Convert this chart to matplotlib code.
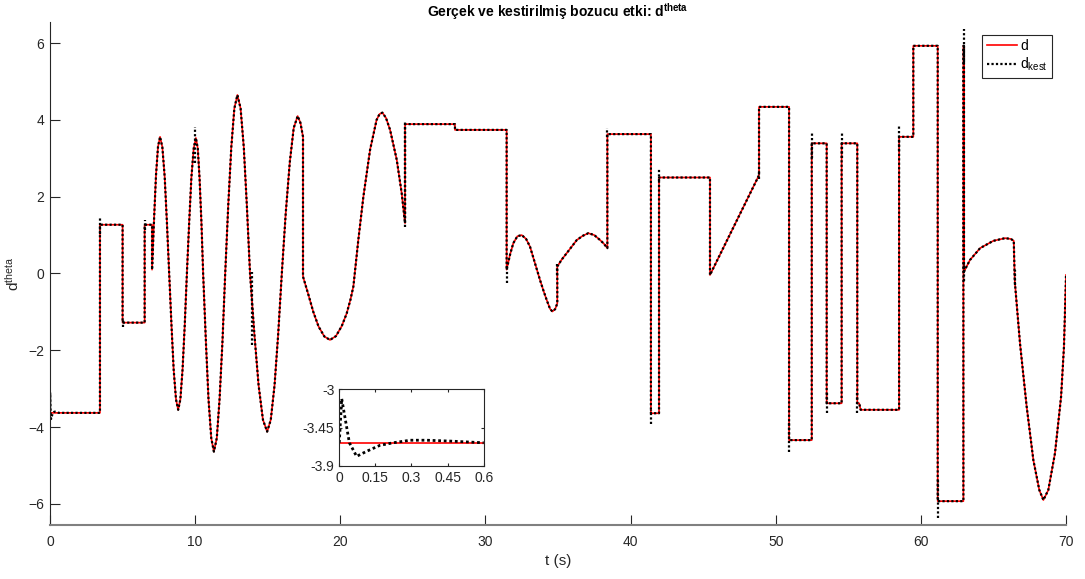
import matplotlib
matplotlib.use("Agg")
import matplotlib.pyplot as plt

plt.rcParams['font.family'] = ['Liberation Sans', 'DejaVu Sans']
plt.rcParams['mathtext.default'] = 'regular'

# gercek bozucu etki d (t, deger) - grafikten okunan noktalar
t_d = [0, 3.44, 3.44, 5.0, 5.0, 6.52, 6.52, 7.03, 7.03,
       7.17, 7.30, 7.44, 7.58, 7.74, 7.90, 8.05, 8.21, 8.37, 8.52, 8.68, 8.83,
       8.98, 9.13, 9.28, 9.43, 9.59, 9.74, 9.90, 10.05, 10.18, 10.30, 10.43, 10.55,
       10.74, 10.92, 11.11, 11.29, 11.49, 11.68, 11.88, 12.07, 12.28, 12.49, 12.70, 12.91,
       13.13, 13.35, 13.56, 13.78, 14.08, 14.37, 14.67, 14.96, 15.21, 15.47, 15.72, 15.97,
       16.24, 16.52, 16.79, 17.06, 17.25, 17.43,
       17.43, 17.8, 18.14, 18.5, 18.9, 19.29, 19.7, 20.1, 20.44, 20.7, 20.9,
       21.24, 21.59, 22.05, 22.5, 22.7, 22.9, 23.15, 23.43, 23.89, 24.23, 24.46,
       24.46, 27.9, 27.9, 31.46,
       31.46, 31.7, 31.92, 32.2, 32.5, 32.8, 33.07, 33.4, 33.76, 34.0, 34.22, 34.45, 34.61, 34.8, 34.95,
       34.95, 35.25, 35.6, 36.29, 36.7, 37.09, 37.5, 37.9, 38.15, 38.4,
       38.4, 41.4, 41.4, 41.96, 41.96, 45.47,
       45.47, 48.85,
       48.85, 50.92, 50.92, 52.48, 52.48, 53.51, 53.51, 54.54, 54.54, 55.62,
       55.62, 55.75, 55.85, 58.5, 58.5, 59.48, 59.48, 61.16, 61.16, 62.93,
       62.93, 62.97,
       62.97, 63.38, 64.08, 64.99, 65.8, 66.2, 66.4,
       66.47, 66.83, 67.29, 67.75, 68.16, 68.44, 68.78, 69.24, 69.66, 69.86, 70.0]
v_d = [-3.63, -3.63, 1.27, 1.27, -1.28, -1.28, 1.27, 1.27, 0.1,
       1.43, 2.55, 3.30, 3.56, 3.29, 2.52, 1.36, 0.0, -1.36, -2.51, -3.28, -3.55,
       -3.28, -2.51, -1.36, 0.0, 1.35, 2.50, 3.26, 3.53, 3.26, 2.50, 1.35, 0.0,
       -1.78, -3.28, -4.29, -4.64, -4.29, -3.28, -1.78, 0.0, 1.78, 3.29, 4.30, 4.65,
       4.30, 3.29, 1.78, 0.0, -1.58, -2.91, -3.81, -4.12, -3.81, -2.91, -1.58, 0.0,
       1.57, 2.90, 3.79, 4.10, 3.93, 3.56,
       -0.08, -0.55, -1.0, -1.38, -1.64, -1.73, -1.63, -1.37, -1.04, -0.68, -0.34,
       0.87, 2.0, 3.22, 4.0, 4.15, 4.19, 4.05, 3.74, 2.96, 2.09, 1.31,
       3.89, 3.89, 3.74, 3.74,
       0.1, 0.5, 0.79, 0.97, 1.0, 0.9, 0.70, 0.28, -0.17, -0.45, -0.69, -0.92, -0.99, -0.93, -0.78,
       0.18, 0.36, 0.53, 0.87, 0.98, 1.05, 1.0, 0.87, 0.78, 0.66,
       3.63, 3.63, -3.64, -3.64, 2.5, 2.5,
       -0.04, 2.56,
       4.34, 4.34, -4.34, -4.34, 3.39, 3.39, -3.38, -3.38, 3.39, 3.39,
       -3.38, -3.38, -3.55, -3.55, 3.56, 3.56, 5.93, 5.93, -5.93, -5.93,
       5.93, 5.93,
       0.05, 0.35, 0.66, 0.85, 0.92, 0.9, 0.85,
       -0.2, -1.82, -3.47, -4.86, -5.64, -5.9, -5.64, -4.68, -3.21, -1.9, -0.04]
assert len(t_d) == len(v_d)

# kestirici baslangic gecici rejimi (0 - 0.6 s)
t_init = [0, 0.01, 0.042, 0.072, 0.114, 0.169, 0.224, 0.294, 0.363, 0.46, 0.6]
v_init = [-3.63, -3.11, -3.63, -3.79, -3.73, -3.66, -3.63, -3.60, -3.60, -3.61, -3.63]

# kestirici sicramalardaki asmalar
spike_t = [0.0, 3.44, 5.0, 6.52, 9.99, 13.93, 24.46, 31.46, 34.95, 38.4, 41.4, 41.96,
           48.85, 50.92, 52.48, 53.51, 54.54, 55.62, 58.5, 61.16, 62.95, 62.97, 66.47]
spike_lo = [-3.8, 1.04, -1.4, 1.13, 2.87, -1.87, 1.2, -0.25, -0.05, 3.55, -3.92, 2.4,
            2.45, -4.64, 3.0, -3.64, 3.0, -3.64, 3.2, -6.38, 5.5, -0.2, -0.3]
spike_hi = [-3.1, 1.47, -1.15, 1.40, 3.82, 0.05, 3.98, 0.2, 0.26, 3.79, -3.55, 2.75,
            2.7, -3.9, 3.65, -3.07, 3.65, -3.07, 3.84, -5.38, 6.38, 0.25, 0.1]

t_kest = t_init + t_d[1:]
v_kest = v_init + v_d[1:]

nokta = (0, (1.0, 1.0))   # sik noktali cizgi

fig = plt.figure(figsize=(10.85, 5.79), dpi=100)
ax = fig.add_axes([0.0461, 0.0933, 0.9364, 0.8687])

ax.plot(t_d, v_d, color='#ff0000', lw=1.2, label='d')
ax.plot(t_kest, v_kest, color='black', lw=1.6, ls=nokta, label='$d_{kest}$')
ax.vlines(spike_t, spike_lo, spike_hi, colors='black', lw=1.6, linestyles=nokta)

ax.set_xlim(0, 70)
ax.set_ylim(-6.55, 6.55)
ax.set_xticks(range(0, 71, 10))
ax.set_yticks(range(-6, 7, 2))
ax.spines['top'].set_visible(False)
ax.spines['right'].set_visible(False)
ax.spines['left'].set_color('#262626')
ax.spines['bottom'].set_color('#808080')
ax.spines['bottom'].set_linewidth(1.5)
ax.tick_params(direction='in', length=7.5, width=0.8, colors='#262626', labelsize=10)
ax.tick_params(axis='x', pad=7)
ax.tick_params(axis='y', pad=4)

ax.set_xlabel('t (s)', fontsize=11, color='#262626', labelpad=4)
ax.set_ylabel('$d^{theta}$', fontsize=11, color='#262626', labelpad=5)
ax.set_title('Gerçek ve kestirilmiş bozucu etki: $d^{theta}$', fontsize=10,
             fontweight='bold', pad=3)

leg = ax.legend(loc='upper right', bbox_to_anchor=(0.986, 0.974), borderaxespad=0,
                fontsize=10, handlelength=2.2, handletextpad=0.2, borderpad=0.3,
                labelspacing=0.2, fancybox=False, framealpha=1, edgecolor='#262626')
leg.get_frame().set_linewidth(0.8)

# ic grafik: baslangictaki gecici rejim
axi = fig.add_axes([0.3127, 0.1957, 0.1331, 0.1319])
axi.plot([0, 0.6], [-3.63, -3.63], color='#ff0000', lw=1.2)
axi.plot(t_init, v_init, color='black', lw=2.0, ls=nokta)
axi.set_xlim(0, 0.6)
axi.set_ylim(-3.9, -3.0)
axi.set_xticks([0, 0.15, 0.3, 0.45, 0.6])
axi.set_xticklabels(['0', '0.15', '0.3', '0.45', '0.6'])
axi.set_yticks([-3.9, -3.45, -3.0])
axi.set_yticklabels(['-3.9', '-3.45', '-3'])
axi.tick_params(direction='in', length=2, width=0.8, colors='#262626', labelsize=10,
                top=True, right=True)
for s in axi.spines.values():
    s.set_color('#262626')

fig.savefig('out.png', dpi=100)
